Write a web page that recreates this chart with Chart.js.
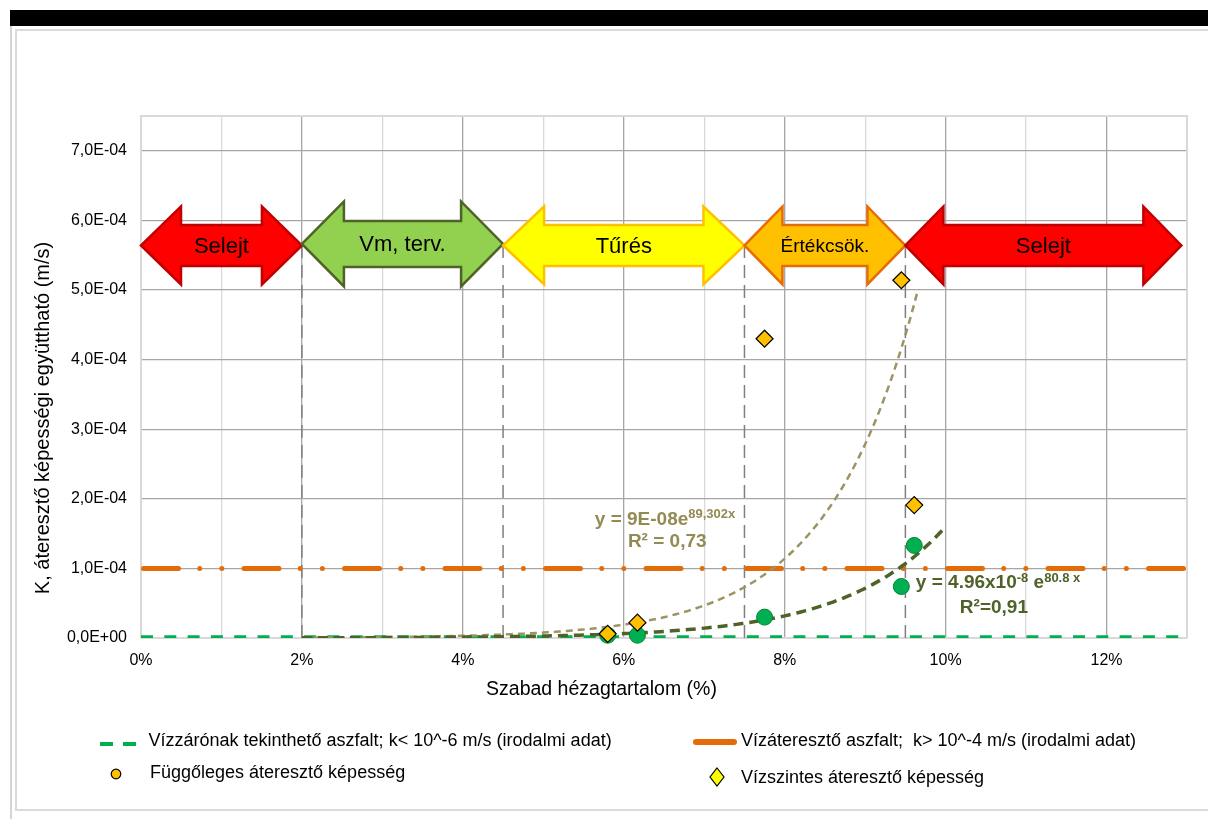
<!DOCTYPE html>
<html>
<head>
<meta charset="utf-8">
<script src="https://cdn.jsdelivr.net/npm/chart.js@4.4.0/dist/chart.umd.min.js"></script>
<style>
  html, body { margin: 0; padding: 0; background: #fff; width: 1208px; height: 819px; overflow: hidden;
               font-family: 'Liberation Sans', Arial, sans-serif; }
  #topbar { position: absolute; left: 10px; top: 10px; width: 1198px; height: 16px; background: #000; }
  #outerline { position: absolute; left: 10px; top: 26px; width: 2px; height: 793px; background: #d4d4d4; }
  #frame { position: absolute; left: 15px; top: 29px; width: 1200px; height: 782px; box-sizing: border-box;
           border-left: 2px solid #dadada; border-top: 2px solid #dadada; border-bottom: 2px solid #dadada; }
  #chart { position: absolute; left: 0; top: 0; }
  .lg { position: absolute; font-size: 18px; line-height: 20px; color: #000; white-space: pre; }
  .mk { position: absolute; }
</style>
</head>
<body>
<div id="topbar"></div>
<div id="outerline"></div>
<div id="frame"></div>
<canvas id="chart" width="1208" height="819"></canvas>
<div id="legend"></div>
<script>
// ---- measured samples: air void content (%) and permeability coefficient K (m/s)
const voidPct     = [5.80, 6.17, 7.75, 9.45, 9.61];
const kVertical   = [4e-6, 4e-6, 3.0e-5, 7.4e-5, 1.33e-4];
const kHorizontal = [6e-6, 2.2e-5, 4.3e-4, 5.14e-4, 1.91e-4];

// ---- literature limits (m/s)
const kWatertight = 1e-6;
const kPermeable  = 1e-4;

// ---- exponential trendlines  y = a * e^(b * x), x as a fraction
const trendA    = [9e-8, 4.96e-8];
const trendB    = [89.302, 80.8];
const trendFrom = [2, 2];
const trendTo   = [9.65, 10];

// ---- classification zones along the void-content axis
const zoneBounds = [0, 2, 4.5, 7.5, 9.5, 12.93];
const zoneLabels = ['Selejt', 'Vm, terv.', 'Tűrés', 'Értékcsök.', 'Selejt'];
const guidePct   = [2, 4.5, 7.5, 9.5];

// ---- tick labels
const xTickLabels = ['0%', '2%', '4%', '6%', '8%', '10%', '12%'];
const yTickLabels = ['0,0E+00', '1,0E-04', '2,0E-04', '3,0E-04', '4,0E-04', '5,0E-04', '6,0E-04', '7,0E-04'];

const FONT = "'Liberation Sans', Arial, sans-serif";

const zoneStyles = [
  { fill: '#FF0000', stroke: '#C00000', head: 40, headH: 39, shaftH: 20.5, dy: 0,    size: 22 },
  { fill: '#92D050', stroke: '#4F6228', head: 42, headH: 42.5, shaftH: 23, dy: -1.5, size: 22 },
  { fill: '#FFFF00', stroke: '#FFC000', head: 41, headH: 39, shaftH: 20.5, dy: 0,    size: 22 },
  { fill: '#FFC000', stroke: '#E46C0A', head: 38, headH: 39, shaftH: 20.5, dy: 0,    size: 19 },
  { fill: '#FF0000', stroke: '#C00000', head: 38, headH: 39, shaftH: 20.5, dy: 0,    size: 22 }
];
const zoneLevelK = 5.64e-4;

function trendPoints(i) {
  const pts = [];
  for (let x = trendFrom[i]; x <= trendTo[i] + 1e-9; x += 0.05) {
    pts.push({ x: x, y: trendA[i] * Math.exp(trendB[i] * x / 100) });
  }
  return pts;
}

const lineDatasets = [
  {
    label: 'Vízzárónak tekinthető aszfalt; k< 10^-6 m/s (irodalmi adat)',
    data: [{ x: 0, y: kWatertight }, { x: 13, y: kWatertight }],
    showLine: true, pointRadius: 0, borderColor: '#00B050', borderWidth: 4,
    borderDash: [12, 11.3], order: 4
  },
  {
    label: 'Vízáteresztő aszfalt;  k> 10^-4 m/s (irodalmi adat)',
    data: [{ x: 0, y: kPermeable }, { x: 13, y: kPermeable }],
    showLine: true, pointRadius: 0, borderColor: '#E36C09', borderWidth: 5,
    borderDash: [35, 21.2, 0, 22.15, 0, 22.15], borderDashOffset: -2.5, borderCapStyle: 'round', order: 5
  },
  {
    label: 'Függőleges áteresztő képesség',
    data: voidPct.map((x, i) => ({ x: x, y: kVertical[i] })),
    showLine: false, pointStyle: 'circle', pointRadius: 8, pointBackgroundColor: '#00B050',
    pointBorderColor: '#00843A', pointBorderWidth: 1, clip: false, order: 1
  },
  {
    label: 'Vízszintes áteresztő képesség',
    data: voidPct.map((x, i) => ({ x: x, y: kHorizontal[i] })),
    showLine: false, pointStyle: 'rectRot', pointRadius: 8.5, pointBackgroundColor: '#FFC000',
    pointBorderColor: '#000000', pointBorderWidth: 1.2, clip: false, order: 0
  },
  {
    label: 'trend-h',
    data: trendPoints(0),
    showLine: true, pointRadius: 0, borderColor: '#9D9464', borderWidth: 2.5,
    borderDash: [7, 5], tension: 0, order: 3
  },
  {
    label: 'trend-v',
    data: trendPoints(1),
    showLine: true, pointRadius: 0, borderColor: '#4F6228', borderWidth: 3.5,
    borderDash: [10, 6], tension: 0, order: 2
  }
];

const guideDatasets = guidePct.map(x => ({
  label: 'guide',
  data: [{ x: x, y: 0 }, { x: x, y: zoneLevelK }],
  showLine: true, pointRadius: 0, borderColor: '#7F7F7F', borderWidth: 1.5,
  borderDash: [13, 7], order: 6
}));

// arrows, trend equations and axis titles drawn on top of the datasets
const overlayPlugin = {
  id: 'overlay',
  beforeDatasetsDraw(chart) {
    const { ctx, chartArea: a } = chart;
    ctx.save();
    ctx.strokeStyle = '#D9D9D9';
    ctx.lineWidth = 2;
    ctx.beginPath();
    ctx.moveTo(a.left, a.top); ctx.lineTo(a.right, a.top); ctx.lineTo(a.right, a.bottom);
    ctx.stroke();
    ctx.restore();
  },
  afterDatasetsDraw(chart) {
    const { ctx, scales: { x: xs, y: ys } } = chart;
    ctx.save();
    // zone arrows
    for (let i = 0; i < zoneLabels.length; i++) {
      const st = zoneStyles[i];
      const x0 = xs.getPixelForValue(zoneBounds[i]);
      const x1 = xs.getPixelForValue(zoneBounds[i + 1]);
      const yc = ys.getPixelForValue(zoneLevelK) + st.dy;
      const h = st.head;
      ctx.beginPath();
      ctx.moveTo(x0, yc);
      ctx.lineTo(x0 + h, yc - st.headH);
      ctx.lineTo(x0 + h, yc - st.shaftH);
      ctx.lineTo(x1 - h, yc - st.shaftH);
      ctx.lineTo(x1 - h, yc - st.headH);
      ctx.lineTo(x1, yc);
      ctx.lineTo(x1 - h, yc + st.headH);
      ctx.lineTo(x1 - h, yc + st.shaftH);
      ctx.lineTo(x0 + h, yc + st.shaftH);
      ctx.lineTo(x0 + h, yc + st.headH);
      ctx.closePath();
      ctx.fillStyle = st.fill;
      ctx.fill();
      ctx.lineJoin = 'miter';
      ctx.miterLimit = 3;
      ctx.lineWidth = 2.5;
      ctx.strokeStyle = st.stroke;
      ctx.stroke();
      ctx.fillStyle = '#000';
      ctx.font = st.size + 'px ' + FONT;
      ctx.textAlign = 'center';
      ctx.textBaseline = 'middle';
      ctx.fillText(zoneLabels[i], (x0 + x1) / 2, yc + 1);
    }

    // trendline equations
    function rich(parts, x, y, color) {
      ctx.fillStyle = color;
      ctx.textAlign = 'left';
      ctx.textBaseline = 'middle';
      let cx = x;
      parts.forEach(p => {
        ctx.font = 'bold ' + p.s + 'px ' + FONT;
        ctx.fillText(p.t, cx, y + (p.dy || 0));
        cx += ctx.measureText(p.t).width;
      });
    }
    function centered(text, x, y, color, size) {
      ctx.fillStyle = color;
      ctx.font = 'bold ' + size + 'px ' + FONT;
      ctx.textAlign = 'center';
      ctx.textBaseline = 'middle';
      ctx.fillText(text, x, y);
    }
    const c1 = '#948A54', c2 = '#4F6228';
    rich([{ t: 'y = 9E-08e', s: 19 }, { t: '89,302x', s: 13, dy: -5 }],
         xs.getPixelForValue(5.64), ys.getPixelForValue(1.703e-4), c1);
    centered('R² = 0,73', xs.getPixelForValue(6.54), ys.getPixelForValue(1.383e-4), c1, 19);
    rich([{ t: 'y = 4.96x10', s: 19 }, { t: '-8', s: 13, dy: -5 }, { t: ' e', s: 19 }, { t: '80.8 x', s: 13, dy: -5 }],
         xs.getPixelForValue(9.63), ys.getPixelForValue(0.788e-4), c2);
    centered('R²=0,91', xs.getPixelForValue(10.60), ys.getPixelForValue(0.428e-4), c2, 19);

    // axis titles
    ctx.fillStyle = '#000';
    ctx.font = '19.5px ' + FONT;
    ctx.textAlign = 'center';
    ctx.textBaseline = 'middle';
    ctx.fillText('Szabad hézagtartalom (%)', 601.5, 690);
    ctx.save();
    ctx.translate(43, 418);
    ctx.rotate(-Math.PI / 2);
    ctx.font = '20px ' + FONT;
    ctx.fillText('K, áteresztő képességi együttható (m/s)', 0, 0);
    ctx.restore();
    ctx.restore();
  }
};

const chart = new Chart(document.getElementById('chart'), {
  type: 'scatter',
  data: { datasets: lineDatasets.concat(guideDatasets) },
  options: {
    responsive: false,
    animation: false,
    events: [],
    layout: { padding: { left: 0, top: 116, right: 21, bottom: 141 } },
    plugins: { legend: { display: false }, tooltip: { enabled: false } },
    scales: {
      x: {
        type: 'linear', min: 0, max: 13, bounds: 'data',
        afterFit(s) { s.height = 40; },
        ticks: {
          stepSize: 1, autoSkip: false, maxRotation: 0, minRotation: 0, padding: 13,
          color: '#000', font: { size: 16, family: FONT },
          callback: v => (Math.round(v) % 2 === 0 ? (xTickLabels[Math.round(v) / 2] || '') : '')
        },
        grid: {
          drawTicks: false, lineWidth: 1.3,
          color: c => (c.tick && Math.round(c.tick.value) % 2 === 0) ? '#A6A6A6' : '#D9D9D9'
        },
        border: { color: '#D9D9D9', width: 2 }
      },
      y: {
        type: 'linear', min: 0, max: 7.5e-4, bounds: 'data',
        afterFit(s) { s.width = 141; },
        ticks: {
          stepSize: 1e-4, includeBounds: false, padding: 14,
          color: '#000', font: { size: 16, family: FONT },
          callback: v => yTickLabels[Math.round(v / 1e-4)] || ''
        },
        grid: { drawTicks: false, lineWidth: 1.3, color: '#A6A6A6' },
        border: { color: '#D9D9D9', width: 2 }
      }
    }
  },
  plugins: [overlayPlugin]
});

// legend built from the chart's own dataset labels
const legendSlots = [
  { ds: 0, marker: 'dash',    mx: 100, my: 735, tx: 148.5, ty: 740 },
  { ds: 1, marker: 'bar',     mx: 690, my: 734, tx: 741,   ty: 740 },
  { ds: 2, marker: 'circle',  mx: 109.5, my: 765.5, tx: 150, ty: 772 },
  { ds: 3, marker: 'diamond', mx: 708.5, my: 767, tx: 741,   ty: 777 }
];
const markerSvg = {
  dash: '<svg width="40" height="10"><line x1="0" y1="5" x2="13" y2="5" stroke="#00B050" stroke-width="4"/><line x1="23" y1="5" x2="36" y2="5" stroke="#00B050" stroke-width="4"/></svg>',
  bar: '<svg width="50" height="12"><line x1="6" y1="6" x2="44" y2="6" stroke="#E36C09" stroke-width="6" stroke-linecap="round"/></svg>',
  circle: '<svg width="12" height="12"><circle cx="6" cy="6" r="4.8" fill="#FFC000" stroke="#000" stroke-width="1.2"/></svg>',
  diamond: '<svg width="16" height="20"><polygon points="8,1 15,10 8,19 1,10" fill="#FFFF00" stroke="#000" stroke-width="1.2"/></svg>'
};
const legendEl = document.getElementById('legend');
legendSlots.forEach(s => {
  const m = document.createElement('div');
  m.className = 'mk';
  m.style.left = s.mx + 'px';
  m.style.top = s.my + 'px';
  m.innerHTML = markerSvg[s.marker];
  legendEl.appendChild(m);
  const t = document.createElement('div');
  t.className = 'lg';
  t.style.left = s.tx + 'px';
  t.style.top = (s.ty - 10) + 'px';
  t.textContent = chart.data.datasets[s.ds].label;
  legendEl.appendChild(t);
});
</script>
</body>
</html>
